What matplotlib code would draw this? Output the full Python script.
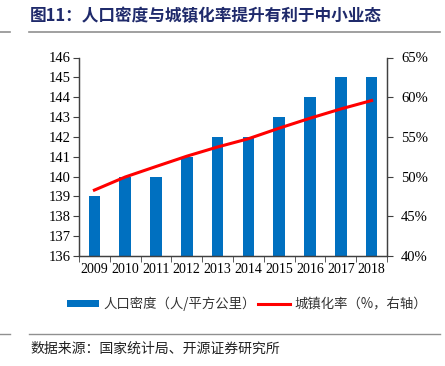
import matplotlib
matplotlib.use("Agg")
import matplotlib.pyplot as plt
import numpy as np

years = ["2009", "2010", "2011", "2012", "2013", "2014", "2015", "2016", "2017", "2018"]
density = [139, 140, 140, 141, 142, 142, 143, 144, 145, 145]
urban_rate = [48.3, 49.95, 51.27, 52.57, 53.73, 54.77, 56.1, 57.35, 58.52, 59.58]
left_ticks = [136, 137, 138, 139, 140, 141, 142, 143, 144, 145, 146]
right_ticks = [40, 45, 50, 55, 60, 65]

cjk = ["Noto Sans CJK SC", "DejaVu Sans"]
serif = ["Liberation Serif", "DejaVu Serif"]

fig = plt.figure(figsize=(4.45, 3.66), dpi=100)
W, H = 445, 366

ax = fig.add_axes([79 / W, 1 - 256 / H, (387 - 79) / W, (256 - 57.5) / H])
x = np.arange(len(years))
bars = ax.bar(x, density, width=0.38, color="#0070C0", zorder=2)
ax.set_ylim(136, 146)
ax.set_xlim(-0.5, len(years) - 0.5)
ax.set_yticks(left_ticks)
ax.set_yticklabels([str(t) for t in left_ticks], family=serif, fontsize=10.5)
ax.set_xticks(x)
ax.set_xticklabels(years, family=serif, fontsize=10)
ax.set_xticks(np.arange(-0.5, len(years) + 0.5, 1), minor=True)
ax.tick_params(axis="x", which="major", length=0, pad=5)
ax.tick_params(axis="x", which="minor", length=4, direction="out", color="#404040")
ax.tick_params(axis="y", length=4, direction="out", color="#404040", pad=2)
ax.spines["top"].set_visible(False)
for s in ["left", "bottom", "right"]:
    ax.spines[s].set_color("#404040")
    ax.spines[s].set_linewidth(0.9)

ax2 = ax.twinx()
line, = ax2.plot(x, urban_rate, color="#FF0000", linewidth=2.2, zorder=3)
ax2.set_ylim(40, 65)
ax2.set_yticks(right_ticks)
ax2.set_yticklabels([f"{t}%" for t in right_ticks], family=serif, fontsize=10.5)
ax2.tick_params(axis="y", length=4, direction="out", color="#404040", pad=6)
ax2.spines["top"].set_visible(False)
for s in ["left", "bottom", "right"]:
    ax2.spines[s].set_color("#404040")
    ax2.spines[s].set_linewidth(0.9)

leg = fig.legend([bars, line], ["人口密度（人/平方公里）", "城镇化率（%，右轴）"],
                 loc="center", bbox_to_anchor=(0.555, 1 - 304 / H), ncol=2,
                 frameon=False, prop={"family": cjk, "size": 9.6},
                 handlelength=2.4, handleheight=0.5, handletextpad=0.3, columnspacing=0.2)
for t in leg.get_texts():
    t.set_color("#333333")

# Title
fig.text(30 / W, 1 - 16 / H, "图11：人口密度与城镇化率提升有利于中小业态", family=cjk,
         fontsize=12, fontweight="bold", color="#1F2A6B", va="center", ha="left")
# separator lines
fig.add_artist(plt.Line2D([0, 10 / W], [1 - 31.5 / H] * 2, color="#909090", lw=1.2))
fig.add_artist(plt.Line2D([29 / W, 440 / W], [1 - 31.5 / H] * 2, color="#909090", lw=1.2))
fig.add_artist(plt.Line2D([0, 10 / W], [1 - 334 / H] * 2, color="#909090", lw=1.0))
fig.add_artist(plt.Line2D([29 / W, 440 / W], [1 - 334 / H] * 2, color="#909090", lw=1.0))
fig.text(30 / W, 1 - 349 / H, "数据来源：国家统计局、开源证券研究所", family=cjk,
         fontsize=10, color="#222222", va="center", ha="left")

fig.savefig("out.png", dpi=100)
